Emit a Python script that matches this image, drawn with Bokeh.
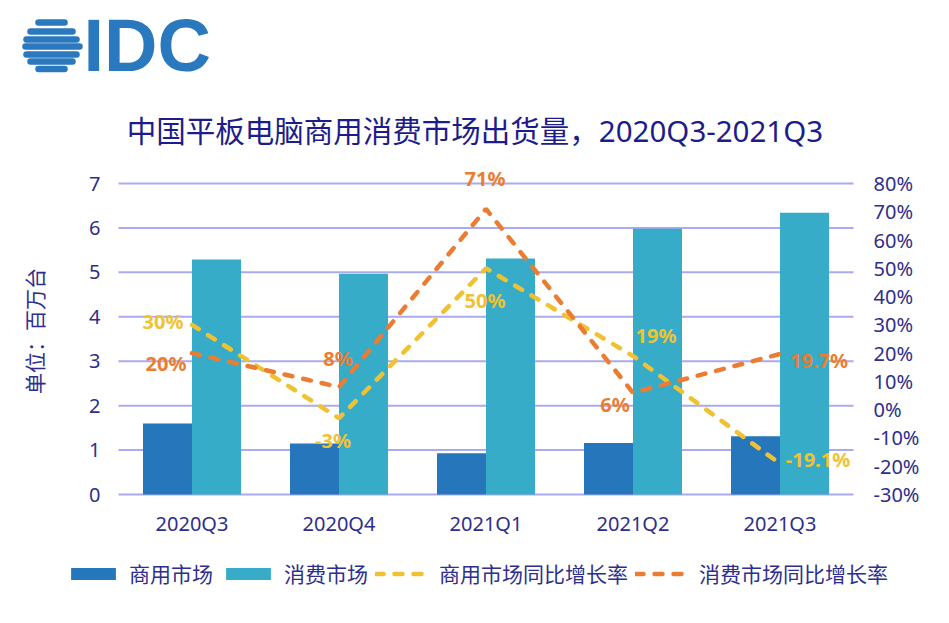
from bokeh.plotting import figure
from bokeh.models import (Range1d, LinearAxis, FixedTicker, PrintfTickFormatter,
                          ColumnDataSource, Legend, LegendItem)
from bokeh.core.properties import value
from bokeh.embed import file_html
from bokeh.resources import INLINE

# ---------------- data ----------------
quarters = ["2020Q3", "2020Q4", "2021Q1", "2021Q2", "2021Q3"]
commercial = [1.60, 1.15, 0.93, 1.16, 1.31]          # 百万台
consumer = [5.29, 4.97, 5.31, 5.98, 6.34]            # 百万台
commercial_yoy = [30, -3, 50, 19, -19.1]             # %
consumer_yoy = [20, 8, 71, 6, 19.7]                  # %
commercial_yoy_labels = ["30%", "-3%", "50%", "19%", "-19.1%"]
consumer_yoy_labels = ["20%", "8%", "71%", "6%", "19.7%"]
left_ticks = [0, 1, 2, 3, 4, 5, 6, 7]
right_ticks = [-30, -20, -10, 0, 10, 20, 30, 40, 50, 60, 70, 80]
series_names = ["商用市场", "消费市场", "商用市场同比增长率", "消费市场同比增长率"]
title_text = "中国平板电脑商用消费市场出货量，2020Q3-2021Q3"
y_label = "单位：百万台"
logo_text = "IDC"

# ---------------- styles / layout ----------------
NAVY = "#2E2E8C"
TITLE_C = "#1C1C8A"
GRID_C = "#AAAAF0"
COM_C = "#2676BC"
CON_C = "#37ACC8"
YEL_C = "#F0C232"
ORA_C = "#EB7D33"
LOGO_C = "#2A78BD"
LATIN = "Noto Sans, Noto Sans CJK SC"
CJK = "Noto Sans CJK SC"

W, H = 933, 607                 # canvas
L, R, T, B = 118, 853, 183, 494  # plot area (px)
N = len(quarters)
Y0, Y1 = left_ticks[0], left_ticks[-1]
P0, P1 = right_ticks[0], right_ticks[-1]
cat_px = (R - L) / N
ppu = (B - T) / (Y1 - Y0)
ppp = (B - T) / (P1 - P0)

# label offsets in screen px (style, not data)
com_dx = [-29, -6, -1, 23, 38]
com_dy = [-3, 22, 32, -20, -4]
con_dx = [-26, -1, -1, -18, 39]
con_dy = [10, -29, -30, 12, 7]

xc = [i + 0.5 for i in range(N)]   # category centres
src = ColumnDataSource(dict(
    x=xc, q=quarters, com=commercial, con=consumer,
    com_yoy=commercial_yoy, con_yoy=consumer_yoy,
    com_lab=commercial_yoy_labels, con_lab=consumer_yoy_labels,
    com_dx=com_dx, com_dy=com_dy, con_dx=con_dx, con_dy=con_dy,
))

p = figure(width=W, height=H,
           x_range=Range1d(-L / cat_px, N + (W - R) / cat_px),
           y_range=Range1d(Y0 - (H - B) / ppu, Y1 + T / ppu),
           output_backend="svg", toolbar_location=None,
           min_border_left=0, min_border_right=0, min_border_top=0, min_border_bottom=0)
p.extra_y_ranges = {"pct": Range1d(P0 - (H - B) / ppp, P1 + T / ppp),
                    "py": Range1d(H, 0)}
p.extra_x_ranges = {"px": Range1d(0, W)}
p.outline_line_color = None
p.background_fill_color = "white"
p.border_fill_color = "white"
p.xgrid.visible = False
p.ygrid.visible = False

# ---- left axis (fixed at the plot's left edge) ----
ya = p.yaxis[0]
ya.fixed_location = 0
ya.bounds = (Y0, Y1 + 0.36)
ya.ticker = FixedTicker(ticks=left_ticks)
ya.axis_line_color = None
ya.major_tick_line_color = None
ya.minor_tick_line_color = None
ya.major_tick_out = 0
ya.major_tick_in = 0
ya.major_label_standoff = 18
ya.major_label_text_font = LATIN
ya.major_label_text_font_size = "20px"
ya.major_label_text_color = NAVY
ya.axis_label = y_label
ya.axis_label_text_font = CJK
ya.axis_label_text_font_size = "21px"
ya.axis_label_text_font_style = "normal"
ya.axis_label_text_color = NAVY
ya.axis_label_standoff = 37

# ---- right axis ----
ra = LinearAxis(y_range_name="pct", ticker=FixedTicker(ticks=right_ticks),
                formatter=PrintfTickFormatter(format="%d%%"), fixed_location=N,
                bounds=(P0, P1))
ra.axis_line_color = None
ra.major_tick_line_color = None
ra.minor_tick_line_color = None
ra.major_tick_out = 0
ra.major_tick_in = 0
ra.major_label_standoff = 20
ra.major_label_text_font = LATIN
ra.major_label_text_font_size = "20px"
ra.major_label_text_color = NAVY
p.add_layout(ra, "right")

# ---- category axis ----
xa = p.xaxis[0]
xa.fixed_location = Y0
xa.bounds = (0, N)
xa.ticker = FixedTicker(ticks=xc)
xa.major_label_overrides = {x: q for x, q in zip(xc, quarters)}
xa.axis_line_color = None
xa.major_tick_line_color = None
xa.minor_tick_line_color = None
xa.major_tick_out = 0
xa.major_tick_in = 0
xa.major_label_standoff = 15
xa.major_label_text_font = LATIN
xa.major_label_text_font_size = "20px"
xa.major_label_text_color = NAVY

# ---- horizontal gridlines at the left-axis ticks, across the plot area ----
p.segment(x0=[0] * len(left_ticks), x1=[N] * len(left_ticks), y0=left_ticks,
          y1=left_ticks, line_color=GRID_C, line_width=2, level="underlay")

# ---- bars ----
r_com = p.vbar(x=[x - 1 / 6 for x in xc], top=commercial, width=1 / 3,
               fill_color=COM_C, line_color=None)
r_con = p.vbar(x=[x + 1 / 6 for x in xc], top=consumer, width=1 / 3,
               fill_color=CON_C, line_color=None)

# ---- growth lines ----
r_cy = p.line("x", "com_yoy", source=src, y_range_name="pct", line_color=YEL_C,
              line_width=4.5, line_dash="8 11", line_cap="round")
r_oy = p.line("x", "con_yoy", source=src, y_range_name="pct", line_color=ORA_C,
              line_width=4.5, line_dash="8 11", line_cap="round")

# ---- data labels ----
p.text(x="x", y="com_yoy", text="com_lab", source=src, y_range_name="pct",
       x_offset="com_dx", y_offset="com_dy", text_align="center",
       text_baseline="middle", text_font=value("Noto Sans"), text_font_style="bold",
       text_font_size="20px", text_color=YEL_C)
p.text(x="x", y="con_yoy", text="con_lab", source=src, y_range_name="pct",
       x_offset="con_dx", y_offset="con_dy", text_align="center",
       text_baseline="middle", text_font=value("Noto Sans"), text_font_style="bold",
       text_font_size="20px", text_color=ORA_C)

# ---- title ----
p.text(x=[474.5], y=[130], text=[title_text], x_range_name="px", y_range_name="py",
       text_align="center", text_baseline="middle", text_font=value(LATIN),
       text_font_size="29.5px", text_color=TITLE_C)

# ---- IDC logo (decoration, px coords) ----
stripe_y = [22, 31, 39, 46, 54, 61, 68.5]
stripe_x0 = [38, 30, 26, 25, 26, 30, 38]
stripe_x1 = [64, 72, 76, 79, 76, 72, 64]
p.segment(x0=stripe_x0, x1=stripe_x1, y0=stripe_y, y1=stripe_y,
          x_range_name="px", y_range_name="py",
          line_color=LOGO_C, line_width=6.5, line_cap="round")
p.text(x=[83], y=[45], text=[logo_text], x_range_name="px", y_range_name="py",
       text_font=value("Liberation Sans"), text_font_style="bold",
       text_font_size="74px", text_color=LOGO_C,
       text_baseline="middle", text_align="left")

# ---- legend ----
empty = ColumnDataSource(dict(x=[], y=[]))
sw_com = p.line("x", "y", source=empty, line_color=COM_C, line_width=12)
sw_con = p.line("x", "y", source=empty, line_color=CON_C, line_width=12)
legend = Legend(items=[
    LegendItem(label=series_names[0], renderers=[r_com, sw_com]),
    LegendItem(label=series_names[1], renderers=[r_con, sw_con]),
    LegendItem(label=series_names[2], renderers=[r_cy]),
    LegendItem(label=series_names[3], renderers=[r_oy]),
], orientation="horizontal", location=(65, 19), glyph_width=56, glyph_height=15,
    label_standoff=8, spacing=7, padding=3, margin=0,
    label_text_font=CJK, label_text_font_size="21px", label_text_color=NAVY,
    border_line_color=None, background_fill_alpha=0)
p.add_layout(legend, "center")

open("out.html", "w").write(file_html(p, INLINE))
